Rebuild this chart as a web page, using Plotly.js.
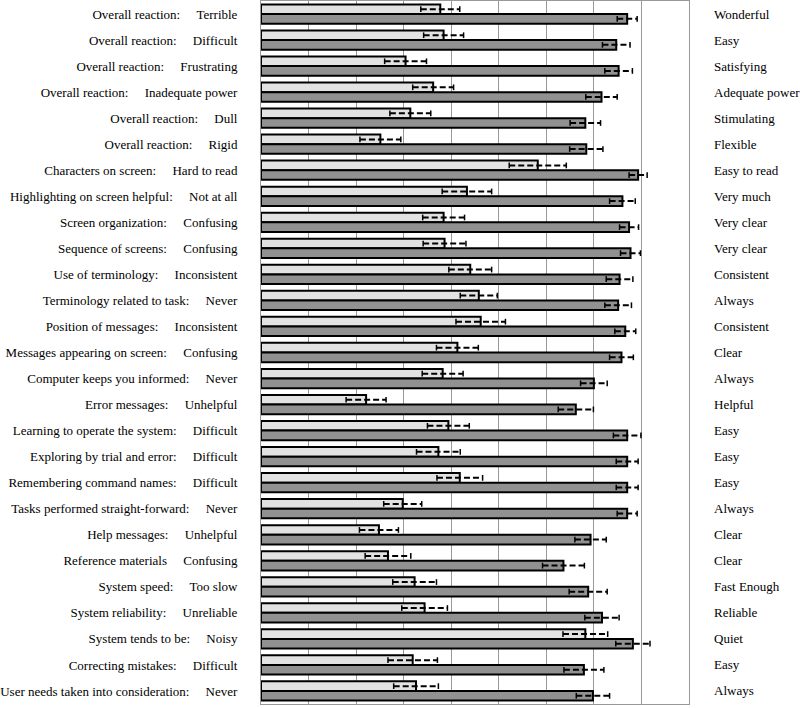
<!DOCTYPE html>
<html>
<head>
<meta charset="utf-8">
<script src="https://cdn.plot.ly/plotly-3.0.1.min.js"></script>
<style>html,body{margin:0;padding:0;background:#fff;}#chart{width:800px;height:708px;}</style>
</head>
<body>
<div id="chart"></div>
<script>
const leftItems = ["Overall reaction:","Overall reaction:","Overall reaction:","Overall reaction:","Overall reaction:","Overall reaction:","Characters on screen:","Highlighting on screen helpful:","Screen organization:","Sequence of screens:","Use of terminology:","Terminology related to task:","Position of messages:","Messages appearing on screen:","Computer keeps you informed:","Error messages:","Learning to operate the system:","Exploring by trial and error:","Remembering command names:","Tasks performed straight-forward:","Help messages:","Reference materials","System speed:","System reliability:","System tends to be:","Correcting mistakes:","User needs taken into consideration:"];
const leftAnchors = ["Terrible","Difficult","Frustrating","Inadequate power","Dull","Rigid","Hard to read","Not at all","Confusing","Confusing","Inconsistent","Never","Inconsistent","Confusing","Never","Unhelpful","Difficult","Difficult","Difficult","Never","Unhelpful","Confusing","Too slow","Unreliable","Noisy","Difficult","Never"];
const rightAnchors = ["Wonderful","Easy","Satisfying","Adequate power","Stimulating","Flexible","Easy to read","Very much","Very clear","Very clear","Consistent","Always","Consistent","Clear","Always","Helpful","Easy","Easy","Easy","Always","Clear","Clear","Fast Enough","Reliable","Quiet","Easy","Always"];

const lightValues = [3.77,3.84,3.04,3.62,3.14,2.51,5.82,4.33,3.84,3.86,4.40,4.58,4.62,4.13,3.82,2.21,3.94,3.73,4.18,2.98,2.48,2.67,3.23,3.44,6.82,3.19,3.26];
const lightErrors = [0.41,0.42,0.44,0.43,0.43,0.43,0.60,0.52,0.44,0.45,0.45,0.39,0.52,0.44,0.43,0.42,0.44,0.46,0.48,0.40,0.41,0.48,0.46,0.48,0.47,0.52,0.47];
const darkValues = [7.70,7.47,7.52,7.16,6.82,6.84,7.93,7.60,7.74,7.77,7.54,7.51,7.66,7.58,7.00,6.62,7.70,7.70,7.70,7.70,6.93,6.36,6.88,7.17,7.82,6.79,6.98];
const darkErrors = [0.21,0.29,0.29,0.33,0.32,0.35,0.19,0.27,0.20,0.21,0.28,0.28,0.22,0.25,0.28,0.37,0.29,0.23,0.23,0.21,0.33,0.44,0.40,0.36,0.36,0.42,0.35];

const GAP = '\u00a0\u00a0\u00a0\u00a0\u00a0';
const idx = leftItems.map((_, i) => i);
const barW = 0.37, off = 0.185;
const yLight = idx.map(i => i - off);
const yDark = idx.map(i => i + off);
const leftLabels = leftItems.map((t, i) => t + GAP + leftAnchors[i]);

function errLines(vals, errs, ys) {
  const x = [], y = [];
  vals.forEach((v, i) => { x.push(v - errs[i], v + errs[i], null); y.push(ys[i], ys[i], null); });
  return {x, y};
}
function errCaps(vals, errs, ys) {
  const x = [], y = [], h = 0.11;
  vals.forEach((v, i) => {
    [v - errs[i], v + errs[i]].forEach(cx => { x.push(cx, cx, null); y.push(ys[i] - h, ys[i] + h, null); });
  });
  return {x, y};
}
const lE = errLines(lightValues, lightErrors, yLight);
const dE = errLines(darkValues, darkErrors, yDark);
const lC = errCaps(lightValues, lightErrors, yLight);
const dC = errCaps(darkValues, darkErrors, yDark);

const font = {family: 'Liberation Serif', size: 13, color: '#000'};

const traces = [
  {type: 'bar', orientation: 'h', x: lightValues, y: yLight, width: barW,
   marker: {color: '#e2e2e2', line: {color: '#000', width: 2}}, hoverinfo: 'x'},
  {type: 'bar', orientation: 'h', x: darkValues, y: yDark, width: barW,
   marker: {color: '#919191', line: {color: '#000', width: 2}}, hoverinfo: 'x'},
  {type: 'scatter', mode: 'lines', x: lE.x, y: lE.y, line: {color: '#000', width: 2, dash: '6px,3px'}, hoverinfo: 'skip'},
  {type: 'scatter', mode: 'lines', x: dE.x, y: dE.y, line: {color: '#000', width: 2, dash: '6px,3px'}, hoverinfo: 'skip'},
  {type: 'scatter', mode: 'lines', x: lC.x, y: lC.y, line: {color: '#000', width: 1.5}, hoverinfo: 'skip'},
  {type: 'scatter', mode: 'lines', x: dC.x, y: dC.y, line: {color: '#000', width: 1.5}, hoverinfo: 'skip'}
];

const annotations = rightAnchors.map((t, i) => ({
  xref: 'paper', yref: 'y', x: 1, y: i, xshift: 23, xanchor: 'left', yanchor: 'middle',
  text: t, showarrow: false, font: font
}));

const layout = {
  width: 800, height: 708,
  font: font,
  margin: {l: 261, r: 111, t: 1, b: 4},
  paper_bgcolor: '#fff', plot_bgcolor: '#fff',
  showlegend: false, barmode: 'overlay',
  xaxis: {range: [0, 9], dtick: 1, tick0: 0, showticklabels: false, ticks: '',
          showgrid: true, gridcolor: '#999999', gridwidth: 1, zeroline: false,
          showline: true, linecolor: '#999999', linewidth: 1, mirror: true, fixedrange: true},
  yaxis: {range: [26.5, -0.5], tickmode: 'array', tickvals: idx, ticktext: leftLabels,
          ticks: '', ticklabelstandoff: 20, showgrid: false, zeroline: false,
          showline: true, linecolor: '#999999', linewidth: 1, mirror: true,
          tickfont: font, fixedrange: true},
  annotations: annotations
};

Plotly.newPlot('chart', traces, layout, {displayModeBar: false, staticPlot: true});
</script>
</body>
</html>
